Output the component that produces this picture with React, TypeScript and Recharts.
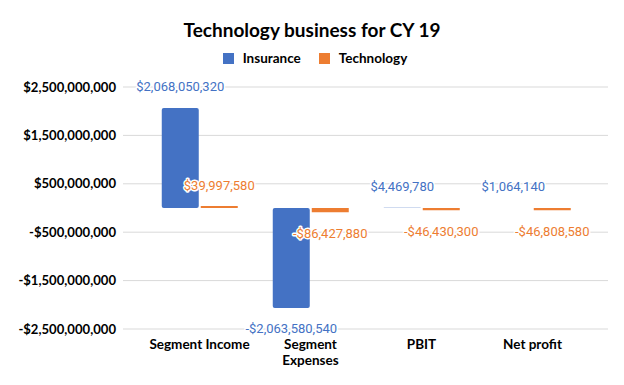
import React from 'react';
import { BarChart, Bar, XAxis, YAxis, CartesianGrid, LabelList, Legend } from 'recharts';

const categories = ['Segment Income', 'Segment Expenses', 'PBIT', 'Net profit'];
const insurance = [2068050320, -2063580540, 4469780, 1064140];
const technology = [39997580, -86427880, -46430300, -46808580];
const yTicks = [-2500000000, -1500000000, -500000000, 500000000, 1500000000, 2500000000];

const BLUE = '#4472C4';
const ORANGE = '#ED7D31';

const data = categories.map((name, i) => ({ name, insurance: insurance[i], technology: technology[i] }));

const fmt = (v: number) => (v < 0 ? '-' : '') + '$' + Math.abs(v).toLocaleString('en-US');

const makeLabel = (color: string) => (props: any) => {
  const vb = props.viewBox && props.viewBox.width !== undefined ? props.viewBox : props;
  const { x, y, width, height } = vb;
  const value = Number(props.value);
  const top = Math.min(y, y + height);
  const bottom = Math.max(y, y + height);
  const cy = value >= 0 ? top - 21 : bottom + 21;
  return (
    <text
      x={x + width / 2}
      y={cy}
      textAnchor="middle"
      dominantBaseline="central"
      fill={color}
      fontFamily="Roboto"
      fontSize={13}
      stroke="#fff"
      strokeWidth={3}
      strokeLinejoin="round"
      paintOrder="stroke"
    >
      {fmt(value)}
    </text>
  );
};

// wrap long category names (more than 15 characters) at the first space
const wrapLabel = (s: string): string[] => {
  if (s.length <= 15) return [s];
  const i = s.indexOf(' ');
  return i < 0 ? [s] : [s.slice(0, i), s.slice(i + 1)];
};

const XTick = (props: any) => {
  const { x, y, payload } = props;
  const lines = wrapLabel(String(payload.value));
  return (
    <text x={x} y={y} textAnchor="middle" fontFamily="Lato" fontWeight={700} fontSize={13.5} fill="#000">
      {lines.map((ln, i) => (
        <tspan key={i} x={x} dy={i === 0 ? 10 : 16}>
          {ln}
        </tspan>
      ))}
    </text>
  );
};

const LegendContent = (props: any) => {
  const items = props.payload || [];
  return (
    <div style={{ display: 'flex', justifyContent: 'center', alignItems: 'center', fontFamily: 'Lato', fontWeight: 700, fontSize: 13.5, color: '#000' }}>
      {items.map((it: any, i: number) => (
        <div key={i} style={{ display: 'flex', alignItems: 'center', marginRight: i === 0 ? 18 : 0 }}>
          <span style={{ display: 'inline-block', width: 11, height: 11, background: it.color, marginRight: 9 }} />
          <span>{it.value}</span>
        </div>
      ))}
    </div>
  );
};

export default function App() {
  return (
    <div style={{ position: 'absolute', left: 0, top: 0, width: 624, height: 385, background: '#fff' }}>
      <div style={{ position: 'absolute', left: 0, top: 17, width: 624, textAlign: 'center', fontFamily: 'Lato', fontWeight: 700, fontSize: 19, color: '#000', lineHeight: '26px' }}>
        Technology business for CY 19
      </div>
      <BarChart
        width={624}
        height={385}
        data={data}
        margin={{ top: 87, right: 16, bottom: 0, left: 0 }}
        barGap={2}
        barCategoryGap="16%"
      >
        <CartesianGrid horizontal vertical={false} stroke="#d9d9d9" />
        <XAxis
          dataKey="name"
          height={56}
          axisLine={false}
          tickLine={false}
          tickSize={0}
          tickMargin={10}
          padding={{ left: 21, right: 20 }}
          interval={0}
          tick={<XTick />}
        />
        <YAxis
          width={123}
          domain={[-2500000000, 2500000000]}
          ticks={yTicks}
          axisLine={false}
          tickLine={false}
          tickSize={0}
          tickMargin={7}
          tickFormatter={fmt}
          tick={{ fontFamily: 'Lato', fontWeight: 700, fontSize: 13.1, fill: '#000' }}
        />
        <Legend
          verticalAlign="middle"
          align="center"
          wrapperStyle={{ position: 'absolute', top: 50, left: 3, width: 624 }}
          content={<LegendContent />}
        />
        <Bar dataKey="insurance" name="Insurance" fill={BLUE} radius={2} isAnimationActive={false}>
          <LabelList dataKey="insurance" content={makeLabel(BLUE)} />
        </Bar>
        <Bar dataKey="technology" name="Technology" fill={ORANGE} isAnimationActive={false}>
          <LabelList dataKey="technology" content={makeLabel(ORANGE)} />
        </Bar>
      </BarChart>
    </div>
  );
}
